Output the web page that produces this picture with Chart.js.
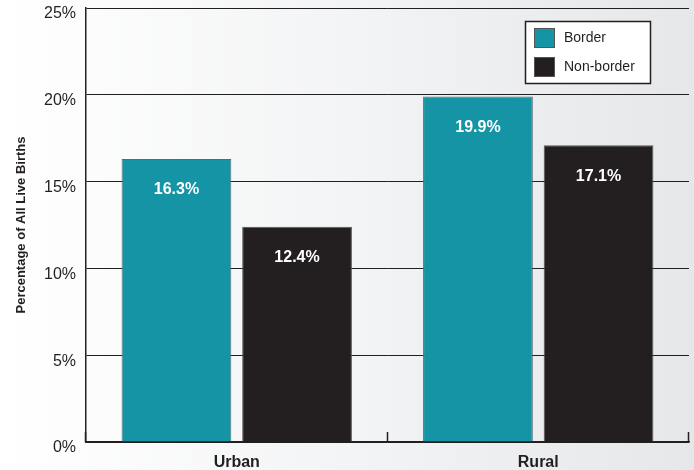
<!DOCTYPE html>
<html>
<head>
<meta charset="utf-8">
<script src="https://cdn.jsdelivr.net/npm/chart.js@4"></script>
<style>
  html, body { margin: 0; padding: 0; }
  body { width: 694px; height: 470px; background: linear-gradient(to right, #ffffff 0%, #f3f4f5 50%, #e6e7e9 100%); }
</style>
</head>
<body>
<canvas id="canvas" width="694" height="470"></canvas>
<script>
const categories = ['Urban', 'Rural'];
const borderValues = [16.3, 19.9];
const nonBorderValues = [12.4, 17.1];
const seriesNames = ['Border', 'Non-border'];
const seriesColors = ['#1594a5', '#231f20'];

// value labels drawn inside the top of each bar
const barLabels = {
    id: 'barLabels',
    afterDatasetsDraw(chart) {
        const ctx = chart.ctx;
        ctx.save();
        ctx.fillStyle = '#ffffff';
        ctx.font = 'bold 16px "Liberation Sans", Arial, sans-serif';
        ctx.textAlign = 'center';
        ctx.textBaseline = 'middle';
        chart.data.datasets.forEach((ds, i) => {
            chart.getDatasetMeta(i).data.forEach((bar, j) => {
                ctx.fillText(ds.data[j].toFixed(1) + '%', bar.x, bar.y + 31);
            });
        });
        ctx.restore();
    }
};

// small inward tick marks at category boundaries + boxed legend
const extras = {
    id: 'extras',
    afterDraw(chart) {
        const ctx = chart.ctx;
        const x = chart.scales.x;
        const area = chart.chartArea;
        const half = (x.getPixelForValue(1) - x.getPixelForValue(0)) / 2;
        ctx.save();
        ctx.strokeStyle = '#231f20';
        ctx.lineWidth = 1.5;
        for (let i = 0; i <= categories.length; i++) {
            const px = Math.round(x.getPixelForValue(0) - half + i * 2 * half) - 0.5;
            ctx.beginPath();
            ctx.moveTo(px, area.bottom);
            ctx.lineTo(px, area.bottom - 10);
            ctx.stroke();
        }
        // legend
        const lx = 525.5, ly = 21.5, lw = 125, lh = 62;
        ctx.fillStyle = '#ffffff';
        ctx.fillRect(lx, ly, lw, lh);
        ctx.lineWidth = 1.5;
        ctx.strokeRect(lx, ly, lw, lh);
        ctx.font = '14px "Liberation Sans", Arial, sans-serif';
        ctx.textBaseline = 'middle';
        seriesNames.forEach((name, i) => {
            const sy = 28 + i * 29;
            ctx.fillStyle = seriesColors[i];
            ctx.fillRect(534, sy, 21, 20);
            ctx.strokeStyle = '#555';
            ctx.lineWidth = 1;
            ctx.strokeRect(534.5, sy + 0.5, 20, 19);
            ctx.fillStyle = '#231f20';
            ctx.fillText(name, 564, sy + 10);
        });
        ctx.restore();
    }
};

new Chart(document.getElementById('canvas'), {
    type: 'bar',
    data: {
        labels: categories,
        datasets: [{
            label: seriesNames[0],
            data: borderValues,
            backgroundColor: seriesColors[0],
            borderColor: '#4f6f74',
            borderWidth: 1,
            categoryPercentage: 0.8,
            barPercentage: 0.91
        }, {
            label: seriesNames[1],
            data: nonBorderValues,
            backgroundColor: seriesColors[1],
            borderColor: '#555555',
            borderWidth: 1,
            categoryPercentage: 0.8,
            barPercentage: 0.91
        }]
    },
    plugins: [barLabels, extras],
    options: {
        responsive: false,
        animation: false,
        devicePixelRatio: 1,
        layout: { padding: { left: 0, right: 5, top: 8, bottom: 0 } },
        plugins: {
            legend: { display: false },
            tooltip: { enabled: false }
        },
        scales: {
            x: {
                grid: { display: false },
                border: { display: true, color: '#231f20', width: 1.5 },
                ticks: {
                    color: '#231f20',
                    font: { family: '"Liberation Sans", Arial, sans-serif', size: 16, weight: 'bold' },
                    padding: 3
                },
                afterFit(scale) { scale.height = 28; scale.paddingLeft = 0; scale.paddingRight = 0; }
            },
            y: {
                min: 0,
                max: 25,
                ticks: {
                    stepSize: 5,
                    color: '#231f20',
                    padding: 10,
                    labelOffset: 6,
                    font: { family: '"Liberation Sans", Arial, sans-serif', size: 16 },
                    callback: v => v + '%'
                },
                grid: { color: '#231f20', lineWidth: 1, drawTicks: false },
                border: { display: true, color: '#231f20', width: 1.5 },
                title: {
                    display: true,
                    text: 'Percentage of All Live Births',
                    color: '#231f20',
                    font: { family: '"Liberation Sans", Arial, sans-serif', size: 13, weight: 'bold' },
                    padding: { top: 14, bottom: 0 }
                },
                afterFit(scale) { scale.width = 86; scale.paddingTop = 0; scale.paddingBottom = 0; }
            }
        }
    }
});
</script>
</body>
</html>
